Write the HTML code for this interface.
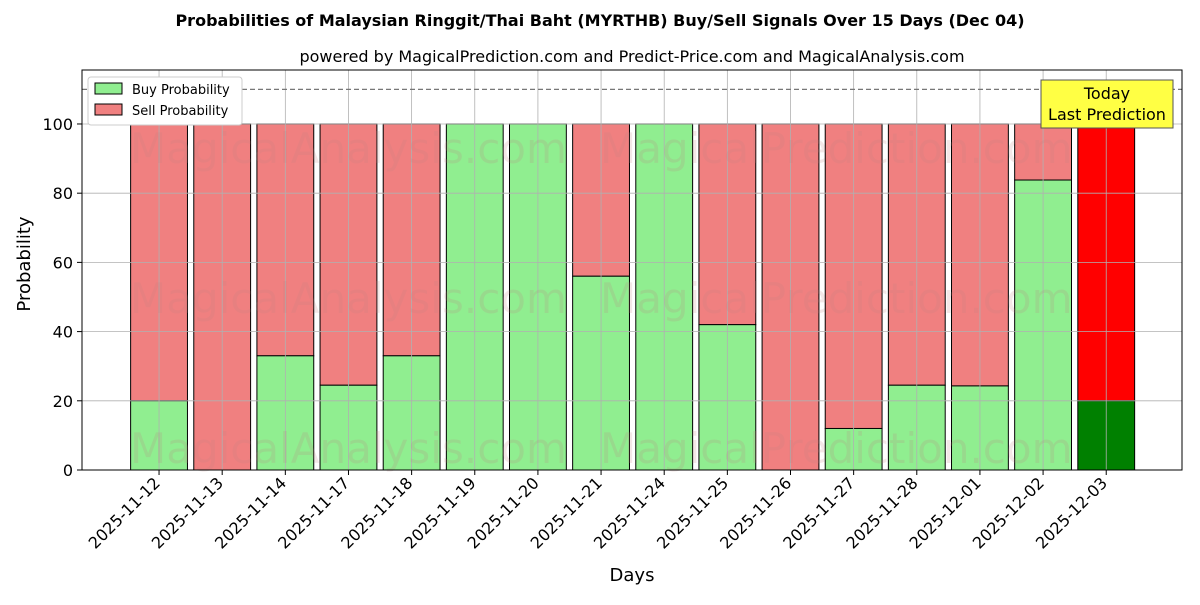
<!DOCTYPE html>
<html><head><meta charset="utf-8"><style>
body{margin:0;background:#fff;}
svg text{font-family:"DejaVu Sans","Liberation Sans",sans-serif;}
</style></head><body>
<svg id="chart" width="1200" height="600" viewBox="0 0 1200 600" xmlns="http://www.w3.org/2000/svg">
<text x="600" y="26" text-anchor="middle" font-size="16" font-weight="bold">Probabilities of Malaysian Ringgit/Thai Baht (MYRTHB) Buy/Sell Signals Over 15 Days (Dec 04)</text>
<text x="632" y="62" text-anchor="middle" font-size="16">powered by MagicalPrediction.com and Predict-Price.com and MagicalAnalysis.com</text>
<g id="bars"></g>
<g id="grid"></g>
<g id="wm" fill="#c08080" opacity="0.18" font-size="42">
<text x="130" y="163">MagicalAnalysis.com</text>
<text x="600" y="163">MagicalPrediction.com</text>
<text x="130" y="313">MagicalAnalysis.com</text>
<text x="600" y="313">MagicalPrediction.com</text>
<text x="130" y="463">MagicalAnalysis.com</text>
<text x="600" y="463">MagicalPrediction.com</text>
</g>
<g id="axes"></g>
<text x="36" y="270" text-anchor="middle" font-size="18" transform="rotate(-90 30 270)">Probability</text>
<text x="632" y="581" text-anchor="middle" font-size="18">Days</text>
<g>
<rect x="88" y="77" width="154" height="48" fill="#fff" stroke="#ccc" rx="3"/>
<rect x="95" y="83" width="27" height="11" fill="lightgreen" stroke="#000"/>
<text x="132" y="94" font-size="13">Buy Probability</text>
<rect x="95" y="104" width="27" height="11" fill="lightcoral" stroke="#000"/>
<text x="132" y="115" font-size="13">Sell Probability</text>
</g>
<g>
<rect x="1041" y="80" width="132" height="48" fill="#ffff44" stroke="#555"/>
<text x="1107" y="99" text-anchor="middle" font-size="16">Today</text>
<text x="1107" y="120" text-anchor="middle" font-size="16">Last Prediction</text>
</g>
</svg>
<script>
const categories=["2025-11-12","2025-11-13","2025-11-14","2025-11-17","2025-11-18","2025-11-19","2025-11-20","2025-11-21","2025-11-24","2025-11-25","2025-11-26","2025-11-27","2025-11-28","2025-12-01","2025-12-02","2025-12-03"];
const buyValues=[20,0,33,24.5,33,100,100,56,100,42,0,12,24.5,24.3,83.8,20];
const yTicks=[0,20,40,60,80,100];
const refLine=110;
const NS="http://www.w3.org/2000/svg";
const L=82,R=1182,T=70,B=470,xmin=-1.22,xmax=16.2,ymax=115.6;
const xs=i=>L+(i-xmin)/(xmax-xmin)*(R-L);
const ys=v=>B-v/ymax*(B-T);
const bw=0.9*(R-L)/(xmax-xmin);
function mk(tag,attrs,parent,txt){const e=document.createElementNS(NS,tag);for(const k in attrs)e.setAttribute(k,attrs[k]);if(txt!=null)e.textContent=txt;parent.appendChild(e);return e;}
const grid=document.getElementById('grid'),bars=document.getElementById('bars'),axes=document.getElementById('axes');
yTicks.forEach(v=>{const g=mk('line',{x1:L,x2:R,y1:ys(v),y2:ys(v),stroke:'#b0b0b0','stroke-width':0.8},grid);


mk('line',{x1:L-5,x2:L,y1:ys(v),y2:ys(v),stroke:'#000'},axes);
const t=mk('text',{x:L-9,y:ys(v)+6,'text-anchor':'end','font-size':16},axes,String(v));

});
categories.forEach((c,i)=>{const x=xs(i);
const g=mk('line',{x1:x,x2:x,y1:T,y2:B,stroke:'#b0b0b0','stroke-width':0.8},grid);


const last=i===categories.length-1;const b=buyValues[i];
const s=mk('rect',{x:x-bw/2,y:ys(100),width:bw,height:ys(b)-ys(100),fill:last?'red':'lightcoral',stroke:'#000','stroke-width':1},bars);


const r=mk('rect',{x:x-bw/2,y:ys(b),width:bw,height:ys(0)-ys(b),fill:last?'green':'lightgreen',stroke:'#000','stroke-width':1},bars);


mk('line',{x1:x,x2:x,y1:B,y2:B+5,stroke:'#000'},axes);
const t=mk('text',{x:x+2,y:B+14,'text-anchor':'end','font-size':16,transform:`rotate(-45 ${x+2} ${B+14})`},axes,c);

});
const d=mk('line',{x1:L,x2:R,y1:ys(refLine),y2:ys(refLine),stroke:'#777','stroke-dasharray':'5,3','stroke-width':1.2},grid);


const f=mk('rect',{x:L,y:T,width:R-L,height:B-T,fill:'none',stroke:'#000','stroke-width':1},axes);


</script>
</body></html>
